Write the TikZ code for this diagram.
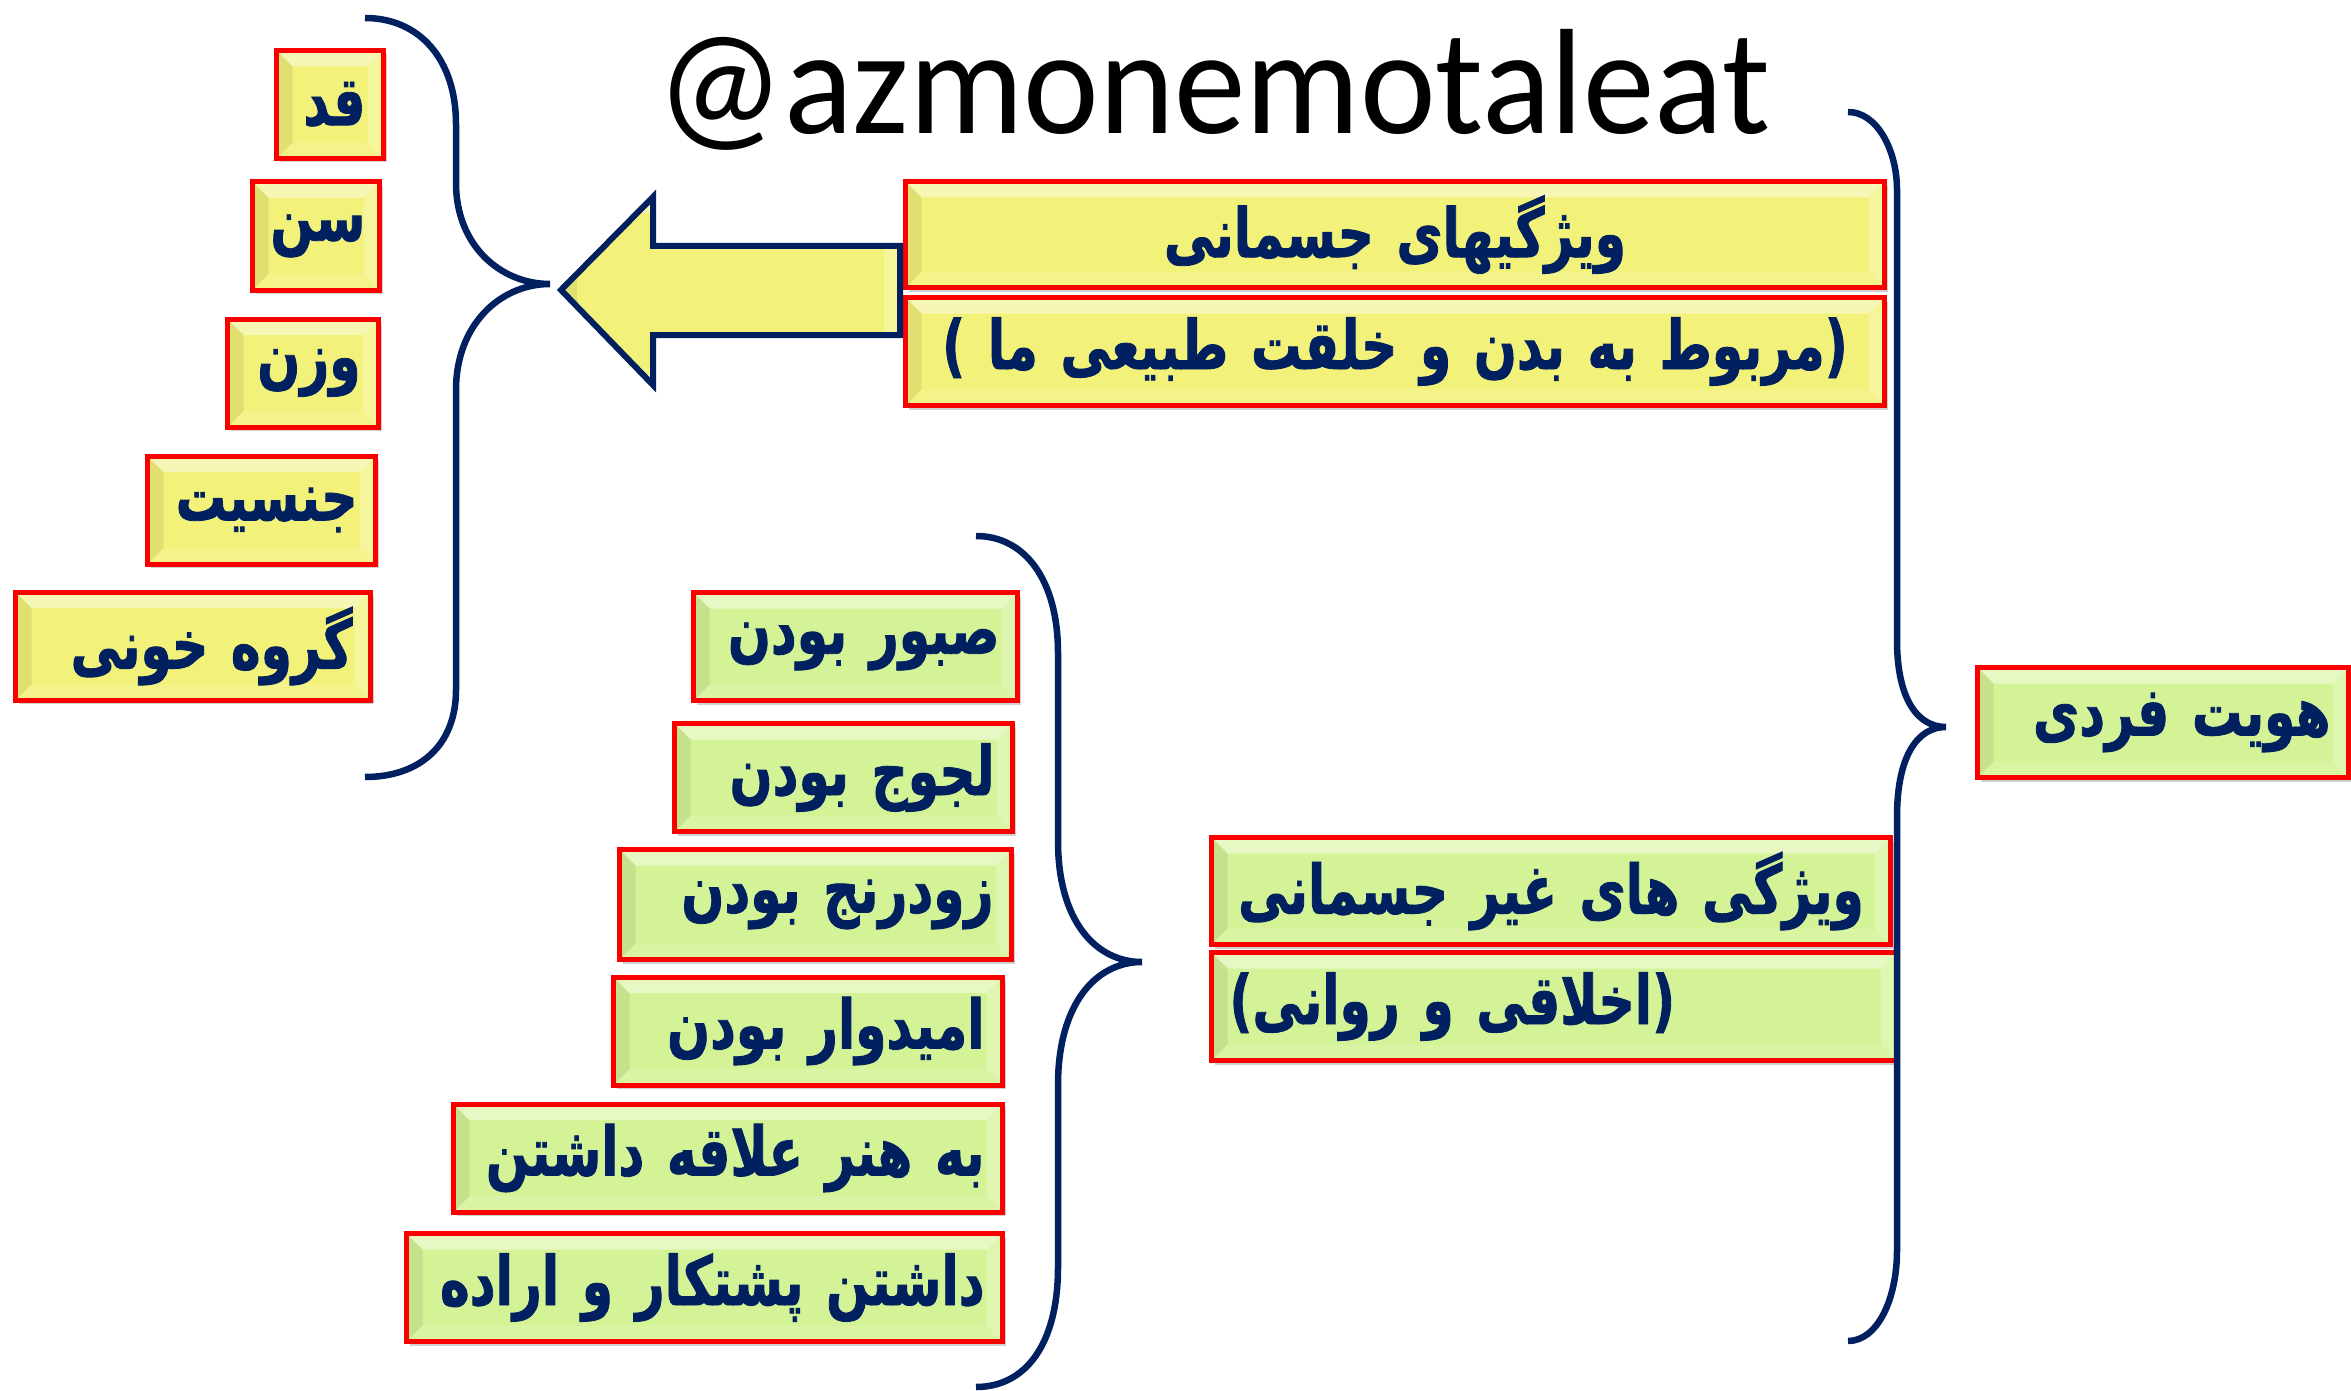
\documentclass[tikz,border=0pt]{standalone}
\usepackage{fontspec}
\usepackage{tikz}
\usetikzlibrary{shadows}
\newfontfamily\farsi[Script=Arabic, FakeStretch=0.74, FakeBold=1.2]{DejaVu Sans}
\newfontfamily\wmfont[FakeStretch=0.955]{Carlito}
\TeXXeTstate=1
\definecolor{navy}{RGB}{0,32,96}
\definecolor{boxred}{RGB}{250,0,0}
\definecolor{boxyellow}{RGB}{242,242,122}
\definecolor{boxgreen}{RGB}{212,243,150}

\tikzset{
  bevel/.style={path picture={
      \path (path picture bounding box.north west) coordinate (bnw)
            (path picture bounding box.south east) coordinate (bse);
      \fill[white, opacity=.45] (bnw) -- (bnw -| bse) -- ([shift={(-16pt,-16pt)}]bnw -| bse) -- ([shift={(16pt,-16pt)}]bnw) -- cycle;
      \fill[white, opacity=.25] (bnw -| bse) -- (bse) -- ([shift={(-16pt,16pt)}]bse) -- ([shift={(-16pt,-16pt)}]bnw -| bse) -- cycle;
      \fill[white, opacity=.12] (bse) -- (bse -| bnw) -- ([shift={(16pt,16pt)}]bse -| bnw) -- ([shift={(-16pt,16pt)}]bse) -- cycle;
      \fill[black, opacity=.07] (bse -| bnw) -- (bnw) -- ([shift={(16pt,-16pt)}]bnw) -- ([shift={(16pt,16pt)}]bse -| bnw) -- cycle;
  }},
  cell/.style={draw=boxred, line width=5pt, bevel, text=navy, inner xsep=18pt, inner ysep=0pt,
    font=\farsi\bfseries\fontsize{68}{72}\selectfont, align=right,
    drop shadow={opacity=.3, shadow xshift=3pt, shadow yshift=-4pt, fill=black!60}},
  ycell/.style={cell, fill=boxyellow},
  gcell/.style={cell, fill=boxgreen},
  brace/.style={draw=navy, line width=6.5pt},
  wm/.style={font=\wmfont\fontsize{150}{150}\selectfont, inner sep=0pt, anchor=base west},
}

\begin{document}
\begin{tikzpicture}[x=1pt, y=-1pt]
  \useasboundingbox (0,0) rectangle (2351,1391);

  % watermark
  \node[wm] (tag) at (656,134) {@azmonemotaleat};

  % physical traits
  \node[ycell, minimum width=107pt, minimum height=108pt, text width=71pt] (qad) at (330,104.5) {\beginR قد\endR};
  \node[ycell, minimum width=127pt, minimum height=108pt, text width=91pt] (sen) at (316,236) {\beginR سن\endR};
  \node[ycell, minimum width=151pt, minimum height=108pt, text width=115pt] (vazn) at (303,373) {\beginR وزن\endR};
  \node[ycell, minimum width=228pt, minimum height=108pt, text width=192pt] (jensiat) at (261.5,510) {\beginR جنسیت\endR};
  \node[ycell, minimum width=355pt, minimum height=108pt, text width=319pt] (khun) at (193,646) {\beginR گروه خونی\endR};

  \node[ycell, minimum width=979pt, minimum height=106pt, text width=943pt, align=center] (jesm) at (1395,234.5) {\beginR ویژگیهای جسمانی\endR};
  \node[ycell, minimum width=979pt, minimum height=108pt, text width=943pt, align=center] (badan) at (1395,351.5) {\beginR (مربوط به بدن و خلقت طبیعی ما )\endR};

  % non-physical traits
  \node[gcell, minimum width=324pt, minimum height=108pt, text width=288pt] (sabur) at (855.5,646.5) {\beginR صبور بودن\endR};
  \node[gcell, minimum width=338pt, minimum height=108pt, text width=302pt] (lajuj) at (843.5,777.5) {\beginR لجوج بودن\endR};
  \node[gcell, minimum width=392pt, minimum height=110pt, text width=356pt] (zudranj) at (815.5,904.5) {\beginR زودرنج بودن\endR};
  \node[gcell, minimum width=389pt, minimum height=108pt, text width=353pt] (omid) at (808,1031) {\beginR امیدوار بودن\endR};
  \node[gcell, minimum width=549pt, minimum height=108pt, text width=513pt] (honar) at (728,1158) {\beginR به هنر علاقه داشتن\endR};
  \node[gcell, minimum width=596pt, minimum height=108pt, text width=560pt] (poshtkar) at (704.5,1287.5) {\beginR داشتن پشتکار و اراده\endR};

  \node[gcell, minimum width=679pt, minimum height=107pt, text width=643pt, align=center] (gheir) at (1551,891) {\beginR ویژگی های غیر جسمانی\endR};
  \node[gcell, minimum width=685pt, minimum height=108pt, text width=649pt, align=left] (ravani) at (1554,1006.5) {\beginR (اخلاقی و روانی)\endR};

  \node[gcell, minimum width=371pt, minimum height=110pt, text width=335pt] (hoviat) at (2163,722.5) {\beginR هویت فردی\endR};

  % block arrow
  \draw[navy, line width=6pt, fill=boxyellow, line join=miter, bevel]
    (900,246) -- (653,246) -- (653,197) -- (561,290) -- (653,385) -- (653,335) -- (900,335) -- cycle;

  % braces
  \draw[brace] (365,18) .. controls (420,18) and (456,60) .. (456,124) -- (456,183)
    .. controls (456,245) and (500,284) .. (550,284)
    .. controls (500,284) and (456,325) .. (456,390) -- (456,690)
    .. controls (456,745) and (420,777) .. (365,777);
  \draw[brace] (976,536) .. controls (1025,536) and (1058,580) .. (1058,653) -- (1058,841)
    .. controls (1058,920) and (1095,962) .. (1142,962)
    .. controls (1095,962) and (1058,1005) .. (1058,1085) -- (1058,1267)
    .. controls (1058,1345) and (1025,1387) .. (976,1387);
  \draw[brace] (1848,112) .. controls (1877,112) and (1897,150) .. (1897,190) -- (1897,640)
    .. controls (1897,700) and (1918,727) .. (1946,727)
    .. controls (1918,727) and (1897,755) .. (1897,817) -- (1897,1250)
    .. controls (1897,1300) and (1877,1341) .. (1848,1341);
\end{tikzpicture}
\end{document}
